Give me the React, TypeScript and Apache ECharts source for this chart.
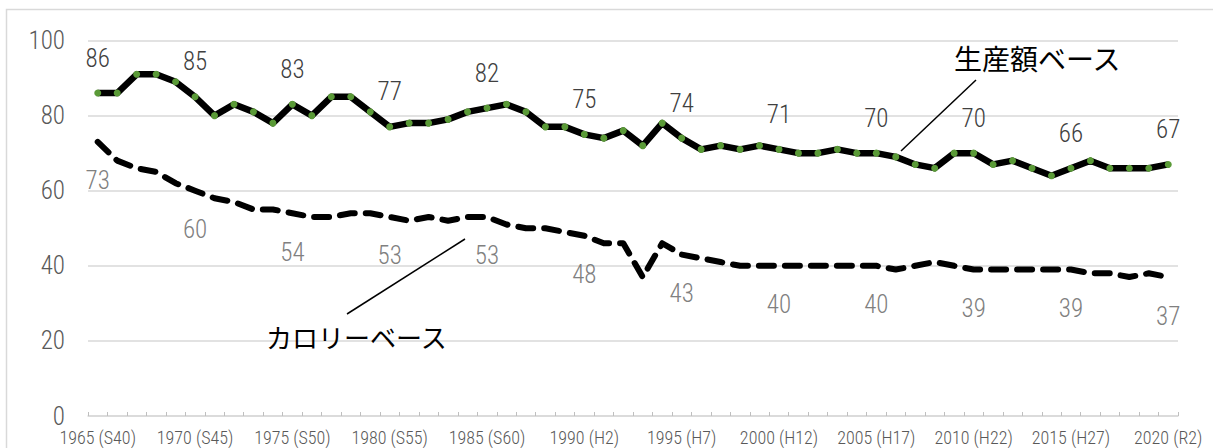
import React, { useEffect, useRef } from "react";
import * as echarts from "echarts";

const years: number[] = [
  1965, 1966, 1967, 1968, 1969, 1970, 1971, 1972, 1973, 1974,
  1975, 1976, 1977, 1978, 1979, 1980, 1981, 1982, 1983, 1984,
  1985, 1986, 1987, 1988, 1989, 1990, 1991, 1992, 1993, 1994,
  1995, 1996, 1997, 1998, 1999, 2000, 2001, 2002, 2003, 2004,
  2005, 2006, 2007, 2008, 2009, 2010, 2011, 2012, 2013, 2014,
  2015, 2016, 2017, 2018, 2019, 2020,
];

const tickLabels: string[] = [
  "1965 (S40)", "1970 (S45)", "1975 (S50)", "1980 (S55)", "1985 (S60)", "1990 (H2)",
  "1995 (H7)", "2000 (H12)", "2005 (H17)", "2010 (H22)", "2015 (H27)", "2020 (R2)",
];

const productionBase: number[] = [
  86, 86, 91, 91, 89, 85, 80, 83, 81, 78,
  83, 80, 85, 85, 81, 77, 78, 78, 79, 81,
  82, 83, 81, 77, 77, 75, 74, 76, 72, 78,
  74, 71, 72, 71, 72, 71, 70, 70, 71, 70,
  70, 69, 67, 66, 70, 70, 67, 68, 66, 64,
  66, 68, 66, 66, 66, 67,
];

const calorieBase: number[] = [
  73, 68, 66, 65, 62, 60, 58, 57, 55, 55,
  54, 53, 53, 54, 54, 53, 52, 53, 52, 53,
  53, 51, 50, 50, 49, 48, 46, 46, 37, 46,
  43, 42, 41, 40, 40, 40, 40, 40, 40, 40,
  40, 39, 40, 41, 40, 39, 39, 39, 39, 39,
  39, 38, 38, 37, 38, 37,
];

const yTicks = { min: 0, max: 100, interval: 20 };

const NUM_FONT = "'Roboto Condensed', 'Liberation Sans Narrow', Roboto, sans-serif";
const JP_FONT = "'Noto Sans CJK JP', 'Noto Sans', sans-serif";

export default function App() {
  const ref = useRef<HTMLDivElement>(null);

  useEffect(() => {
    document.body.style.margin = "0";
    if (!ref.current) return;
    const chart = echarts.init(ref.current, undefined, { renderer: "svg" });

    const labelEvery = 5;

    const option = {
      animation: false,
      backgroundColor: "#ffffff",
      grid: { left: 88, right: 35, top: 40.5, bottom: 32, containLabel: false },
      xAxis: {
        type: "category",
        data: years.map(String),
        boundaryGap: true,
        axisLine: { show: true, lineStyle: { color: "#d9d9d9", width: 1.5 } },
        axisTick: { show: true, inside: true, length: 4, interval: 0, lineStyle: { color: "#bfbfbf", width: 1 } },
        axisLabel: {
          interval: labelEvery - 1,
          margin: 12,
          fontSize: 18,
          fontWeight: 300,
          fontFamily: NUM_FONT,
          color: "#595959",
          formatter: (_v: string, i: number) => (i % labelEvery === 0 ? tickLabels[i / labelEvery] : ""),
        },
        splitLine: { show: false },
      },
      yAxis: {
        type: "value",
        min: yTicks.min,
        max: yTicks.max,
        interval: yTicks.interval,
        axisLine: { show: false },
        axisTick: { show: false },
        axisLabel: { margin: 23, fontSize: 25, fontWeight: 300, fontFamily: NUM_FONT, color: "#595959" },
        splitLine: { lineStyle: { color: "#d9d9d9", width: 1.5 } },
      },
      series: [
        {
          name: "カロリーベース",
          type: "line",
          data: calorieBase.map((v, i) => ({ value: v, label: { show: i % labelEvery === 0 } })),
          symbol: "circle",
          symbolSize: 1,
          itemStyle: { color: "rgba(0,0,0,0)" },
          lineStyle: { color: "#000000", width: 6, type: [15, 11], cap: "round", join: "round" },
          label: {
            show: false,
            position: "bottom",
            distance: 26,
            fontSize: 25,
            fontWeight: 300,
            fontFamily: NUM_FONT,
            color: "#808080",
          },
          z: 2,
        },
        {
          name: "生産額ベース",
          type: "line",
          data: productionBase.map((v, i) => ({ value: v, label: { show: i % labelEvery === 0 } })),
          symbol: "circle",
          symbolSize: 7,
          showAllSymbol: true,
          itemStyle: { color: "#5a9a37" },
          lineStyle: { color: "#000000", width: 6.5, join: "round" },
          label: {
            show: false,
            position: "top",
            distance: 19,
            fontSize: 25,
            fontWeight: 300,
            fontFamily: NUM_FONT,
            color: "#404040",
          },
          z: 3,
        },
      ],
      graphic: [
        {
          type: "rect",
          shape: { x: 6.5, y: 9.5, width: 1240, height: 480 },
          style: { fill: "none", stroke: "#d9d9d9", lineWidth: 1.5 },
          silent: true,
          z: -10,
        },
        {
          type: "line",
          shape: { x1: 976, y1: 80, x2: 901, y2: 151 },
          style: { stroke: "#000000", lineWidth: 1.5 },
          z: 10,
        },
        {
          type: "text",
          x: 954,
          y: 58,
          style: {
            text: "生産額ベース",
            fontSize: 28,
            fontFamily: JP_FONT,
            fill: "#000000",
            textVerticalAlign: "middle",
            textAlign: "left",
          },
          z: 10,
        },
        {
          type: "line",
          shape: { x1: 465, y1: 239, x2: 347, y2: 314 },
          style: { stroke: "#000000", lineWidth: 1.5 },
          z: 10,
        },
        {
          type: "text",
          x: 266,
          y: 336,
          style: {
            text: "カロリーベース",
            fontSize: 26,
            fontFamily: JP_FONT,
            fill: "#000000",
            textVerticalAlign: "middle",
            textAlign: "left",
          },
          z: 10,
        },
      ],
    };

    chart.setOption(option as any);
    return () => chart.dispose();
  }, []);

  return <div ref={ref} style={{ width: 1213, height: 448 }} />;
}
